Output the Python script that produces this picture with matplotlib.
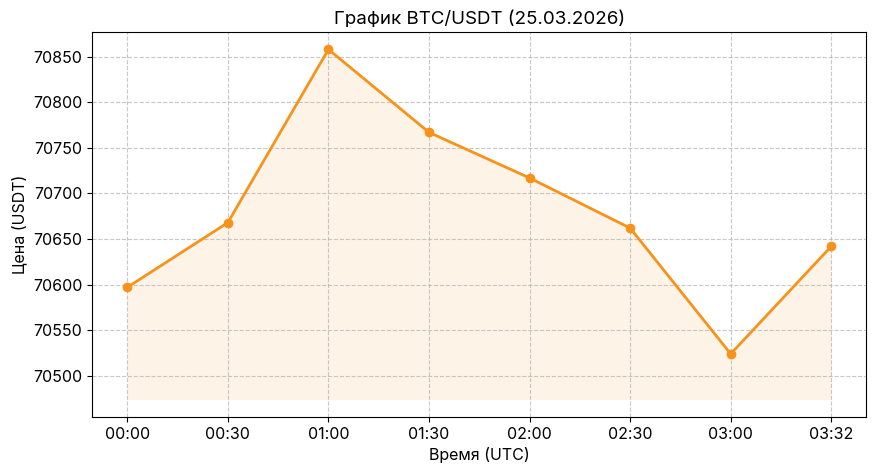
import matplotlib
matplotlib.use("Agg")
import matplotlib.pyplot as plt

times = ["00:00", "00:30", "01:00", "01:30", "02:00", "02:30", "03:00", "03:32"]
prices = [70597, 70668, 70858, 70767, 70717, 70662, 70524, 70642]

plt.rcParams['font.family'] = ['Inter', 'DejaVu Sans']

btc_orange = "#F7931A"

fig, ax = plt.subplots(figsize=(8.77, 4.76), dpi=100)
fig.subplots_adjust(left=0.105, right=0.988, top=0.933, bottom=0.124)

x = list(range(len(times)))
ax.plot(x, prices, color=btc_orange, linewidth=2, marker="o", markersize=6)
ax.fill_between(x, prices, min(prices) - 50, color=btc_orange, alpha=0.1, linewidth=0)

ax.set_xticks(x)
ax.set_xticklabels(times)
ax.tick_params(labelsize=11.5)
ax.grid(True, linestyle="--", alpha=0.7)

ax.set_title("График BTC/USDT (25.03.2026)", fontsize=13.5)
ax.set_xlabel("Время (UTC)", fontsize=11.5)
ax.set_ylabel("Цена (USDT)", fontsize=11.5)

fig.savefig("out.png", dpi=100)
